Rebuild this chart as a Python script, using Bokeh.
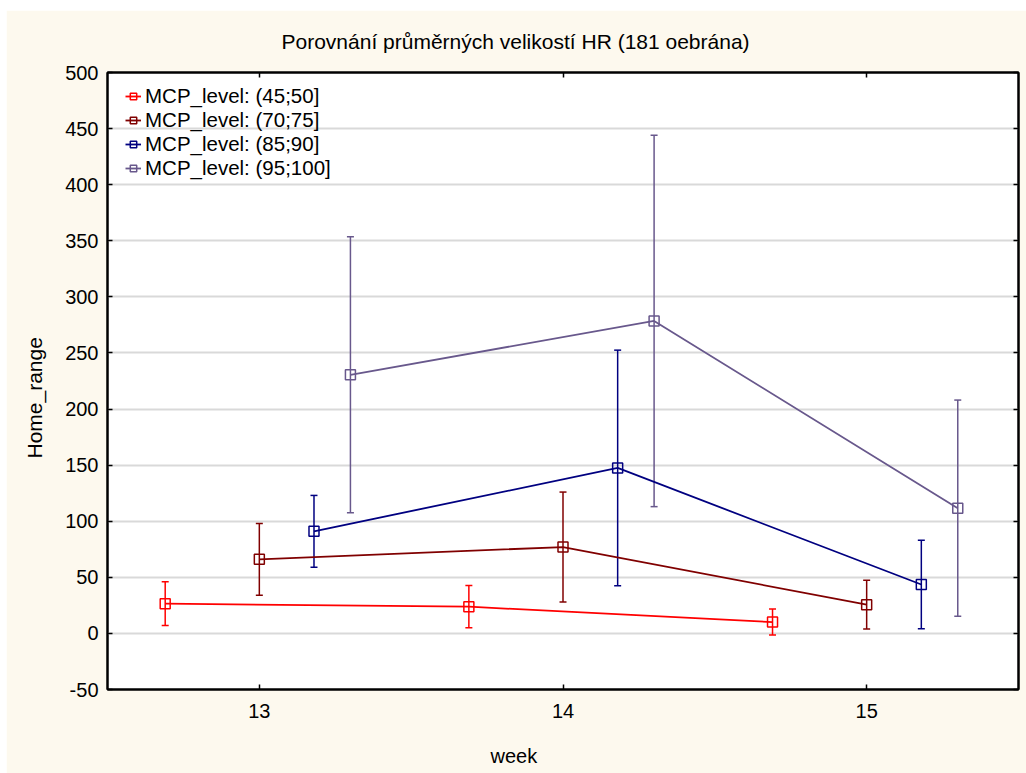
from bokeh.plotting import figure
from bokeh.models import (ColumnDataSource, Whisker, TeeHead, Legend, LegendItem,
                          FixedTicker, LinearAxis, Title, Range1d)
from bokeh.transform import dodge
from bokeh.embed import file_html
from bokeh.resources import INLINE

# ---------------- data ----------------
title_text = "Porovnání průměrných velikostí HR (181 oebrána)"
x_label = "week"
y_label = "Home_range"

weeks = [13, 14, 15]
x_ticks = [13, 14, 15]
y_ticks = [-50, 0, 50, 100, 150, 200, 250, 300, 350, 400, 450, 500]

series_names = ["MCP_level: (45;50]", "MCP_level: (70;75]",
                "MCP_level: (85;90]", "MCP_level: (95;100]"]

mean_45_50 = [26.5, 23.8, 10.1]
err_45_50 = [19.5, 18.8, 11.6]

mean_70_75 = [66.0, 77.0, 25.6]
err_70_75 = [32.0, 49.0, 21.7]

mean_85_90 = [91.0, 147.5, 43.6]
err_85_90 = [32.0, 105.0, 39.4]

mean_95_100 = [230.5, 278.5, 111.6]
err_95_100 = [123.0, 165.5, 96.4]

means = [mean_45_50, mean_70_75, mean_85_90, mean_95_100]
errs = [err_45_50, err_70_75, err_85_90, err_95_100]

# ---------------- style ----------------
colors = ["#FF0000", "#800000", "#000080", "#68588C"]
dodges = [-0.31, 0.0, 0.18, 0.30]
FONT = "Liberation Sans"

p = figure(width=1020, height=763, title=None,
           x_range=Range1d(12.5, 15.5), y_range=Range1d(-50, 500),
           output_backend="svg", toolbar_location=None,
           min_border_left=101, min_border_right=8,
           min_border_top=62, min_border_bottom=84,
           background_fill_color="white", border_fill_color="#FDF9EE",
           outline_line_color="black", outline_line_width=2,
           margin=(10, 0, 0, 6))

p.xgrid.grid_line_color = None
p.ygrid.grid_line_color = "#D9D9D9"
p.ygrid.grid_line_width = 2

for ax, ticks in ((p.xaxis, x_ticks), (p.yaxis, y_ticks)):
    ax.ticker = FixedTicker(ticks=ticks)
    ax.major_tick_in = 5
    ax.major_tick_out = 0
    ax.minor_tick_line_color = None
    ax.axis_line_color = "black"
    ax.axis_line_width = 2
    ax.major_tick_line_color = "black"
    ax.major_tick_line_width = 1.5
    ax.major_label_text_font = FONT
    ax.major_label_text_font_size = "20px"
    ax.major_label_text_color = "black"
p.xaxis.major_label_standoff = 14
p.yaxis.major_label_standoff = 9
p.yaxis.major_label_overrides = {t: str(t) for t in y_ticks}

# inward ticks on the top and right frame edges
top_ax = LinearAxis(ticker=FixedTicker(ticks=x_ticks),
                    major_label_overrides={t: "" for t in x_ticks},
                    major_tick_in=5, major_tick_out=0, minor_tick_line_color=None,
                    major_label_standoff=0, axis_line_width=2, major_tick_line_width=1.5)
p.add_layout(top_ax, "above")
right_ax = LinearAxis(ticker=FixedTicker(ticks=y_ticks),
                      major_label_overrides={t: "" for t in y_ticks},
                      major_tick_in=5, major_tick_out=0, minor_tick_line_color=None,
                      major_label_standoff=0, axis_line_width=2, major_tick_line_width=1.5)
p.add_layout(right_ax, "right")


def spacer(gap, ticks):
    # invisible axis used only to push the side titles away from the frame
    return LinearAxis(ticker=FixedTicker(ticks=ticks),
                      major_label_overrides={t: "" for t in ticks},
                      major_tick_out=gap, major_tick_in=0,
                      axis_line_color=None, major_tick_line_color=None,
                      minor_tick_line_color=None, major_label_standoff=0)


items = []
for name, m, e, c, d in zip(series_names, means, errs, colors, dodges):
    src = ColumnDataSource(dict(
        week=weeks, mean=m,
        upper=[a + b for a, b in zip(m, e)],
        lower=[a - b for a, b in zip(m, e)]))
    xs = dodge("week", d)
    ln = p.line(x=xs, y="mean", source=src, line_color=c, line_width=1.8)
    w = Whisker(base=xs, upper="upper", lower="lower", source=src,
                line_color=c, line_width=1.5,
                upper_head=TeeHead(size=7, line_color=c, line_width=1.5),
                lower_head=TeeHead(size=7, line_color=c, line_width=1.5))
    p.add_layout(w)
    sq = p.scatter(x=xs, y="mean", source=src, marker="square", size=10,
                   fill_color=None, line_color=c, line_width=1.5)
    items.append(LegendItem(label=name, renderers=[ln, sq]))

legend = Legend(items=items, location=(18, 509), margin=0, padding=0, spacing=0,
                glyph_width=16, glyph_height=20, label_height=20, label_standoff=4,
                label_text_line_height=0.95,
                background_fill_alpha=0, border_line_color=None,
                label_text_font=FONT, label_text_font_size="20.5px",
                label_text_color="black")
p.add_layout(legend)

# titles placed in the side panels (spacers push them away from the axes)
p.add_layout(spacer(15, x_ticks), "above")
p.add_layout(Title(text=title_text, align="left", offset=174, standoff=10,
                   text_font=FONT, text_font_size="21px", text_font_style="normal",
                   text_color="black"), "above")
p.add_layout(spacer(19, x_ticks), "below")
p.add_layout(Title(text=x_label, align="left", offset=383, standoff=6,
                   text_font=FONT, text_font_size="20px", text_font_style="normal",
                   text_color="black"), "below")
p.add_layout(spacer(15, y_ticks), "left")
p.add_layout(Title(text=y_label, align="left", offset=231, standoff=4,
                   text_font=FONT, text_font_size="21px", text_font_style="normal",
                   text_color="black"), "left")

open("out.html", "w").write(file_html(p, INLINE))
